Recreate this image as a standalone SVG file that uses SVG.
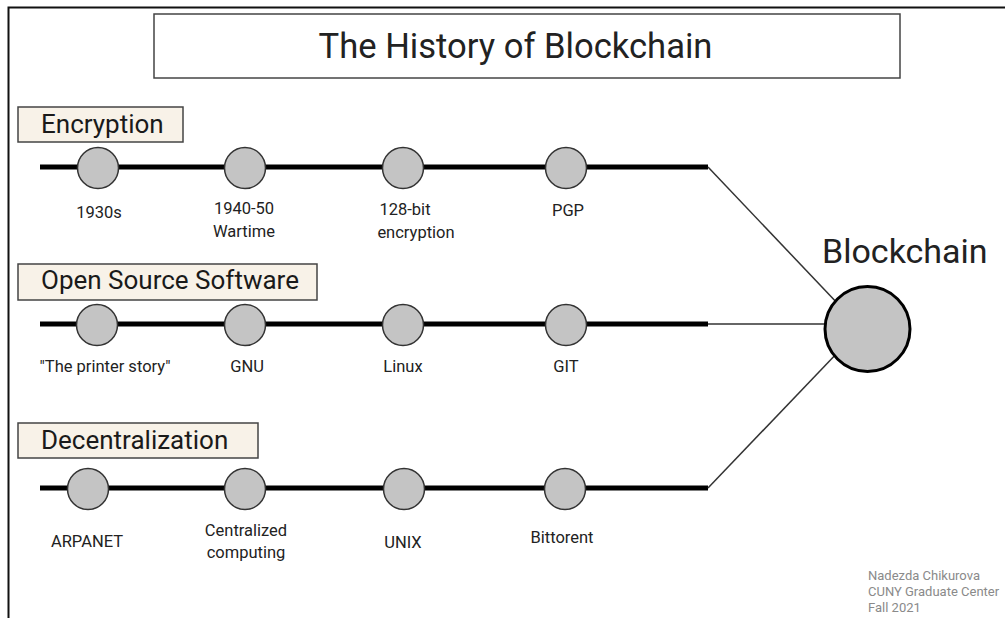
<svg xmlns="http://www.w3.org/2000/svg" width="1005" height="618" viewBox="0 0 1005 618">
<style>
text{font-family:Roboto,"Liberation Sans",sans-serif;fill:#222}
.cat{fill:#f8f2e8;stroke:#444;stroke-width:1.5}
.cattxt{font-size:26px;fill:#1a1a1a}
.dot{fill:#c4c4c4;stroke:#333;stroke-width:1.5}
.lbl{font-size:16.5px;text-anchor:middle}
.tl{stroke:#000;stroke-width:5;fill:none}
.thin{stroke:#333;stroke-width:1.5;fill:none}
.foot{font-size:13px;fill:#8a8a8a}
</style>
<rect width="1005" height="618" fill="#fff"/>
<path d="M8.5,618 V7.5 H1005" fill="none" stroke="#111" stroke-width="2"/>
<g id="title">
<rect x="154" y="14" width="746" height="64" fill="#fff" stroke="#444" stroke-width="1.5"/>
<text x="515.5" y="58" font-size="34.6" text-anchor="middle" fill="#111">The History of Blockchain</text>
</g>
<g id="connectors">
<line class="tl" x1="40" y1="167" x2="708" y2="167"/>
<line class="tl" x1="40" y1="324" x2="708" y2="324"/>
<line class="tl" x1="40" y1="488" x2="708" y2="488"/>
<line class="thin" x1="708" y1="167" x2="840" y2="306"/>
<line class="thin" x1="708" y1="324" x2="830" y2="324"/>
<line class="thin" x1="708" y1="488" x2="840" y2="350"/>
</g>
<g id="cat-encryption">
<rect class="cat" x="18" y="107" width="165" height="35"/>
<text class="cattxt" x="41" y="133">Encryption</text>
</g>
<g id="cat-oss">
<rect class="cat" x="18" y="264" width="299" height="36"/>
<text class="cattxt" x="41" y="289">Open Source Software</text>
</g>
<g id="cat-decentralization">
<rect class="cat" x="18" y="423" width="240" height="35"/>
<text class="cattxt" x="41" y="449">Decentralization</text>
</g>
<g id="n-1930s"><circle class="dot" cx="98" cy="168" r="20.5"/><text class="lbl" x="99" y="218">1930s</text></g>
<g id="n-1940"><circle class="dot" cx="245" cy="168" r="20.5"/><text class="lbl" x="244" y="214">1940-50</text><text class="lbl" x="244" y="237">Wartime</text></g>
<g id="n-128"><circle class="dot" cx="403" cy="168" r="20.5"/><text class="lbl" x="405" y="215">128-bit</text><text class="lbl" x="416" y="238">encryption</text></g>
<g id="n-pgp"><circle class="dot" cx="566" cy="168" r="20.5"/><text class="lbl" x="568" y="216">PGP</text></g>
<g id="n-printer"><circle class="dot" cx="97" cy="325" r="20.5"/><text class="lbl" x="105" y="372" font-size="17.5">"The printer story"</text></g>
<g id="n-gnu"><circle class="dot" cx="245" cy="325" r="20.5"/><text class="lbl" x="247" y="372">GNU</text></g>
<g id="n-linux"><circle class="dot" cx="403" cy="325" r="20.5"/><text class="lbl" x="403" y="372">Linux</text></g>
<g id="n-git"><circle class="dot" cx="566" cy="325" r="20.5"/><text class="lbl" x="566" y="372">GIT</text></g>
<g id="n-arpanet"><circle class="dot" cx="88" cy="489" r="20.5"/><text class="lbl" x="87" y="547">ARPANET</text></g>
<g id="n-centralized"><circle class="dot" cx="245" cy="489" r="20.5"/><text class="lbl" x="246" y="536">Centralized</text><text class="lbl" x="246" y="558">computing</text></g>
<g id="n-unix"><circle class="dot" cx="404" cy="489" r="20.5"/><text class="lbl" x="403" y="548" font-size="21.5">UNIX</text></g>
<g id="n-bittorent"><circle class="dot" cx="565" cy="489" r="20.5"/><text class="lbl" x="562" y="543">Bittorent</text></g>
<g id="n-blockchain">
<circle cx="867.5" cy="329" r="42.5" fill="#c4c4c4" stroke="#000" stroke-width="3"/>
<text x="822" y="263" font-size="34" fill="#111">Blockchain</text>
</g>
<g id="credit">
<text class="foot" x="868" y="580">Nadezda Chikurova</text>
<text class="foot" x="868" y="596">CUNY Graduate Center</text>
<text class="foot" x="868" y="612">Fall 2021</text>
</g>
</svg>
